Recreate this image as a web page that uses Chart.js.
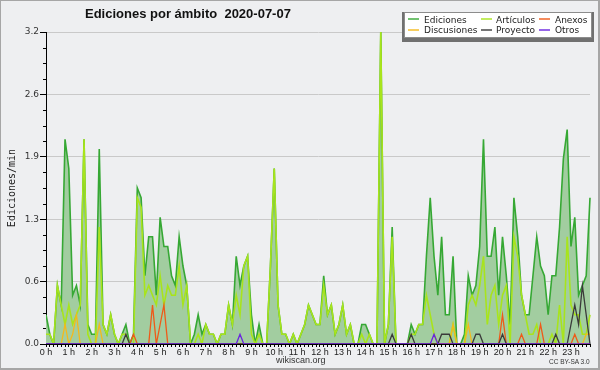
<!DOCTYPE html>
<html><head><meta charset="utf-8">
<script src="https://cdn.jsdelivr.net/npm/chart.js@4.4.0/dist/chart.umd.min.js"></script>
<style>
html,body{margin:0;padding:0;background:#eeeff1;}
#wrap{position:relative;width:600px;height:370px;overflow:hidden;background:#eeeff1;}
#c{position:absolute;left:0;top:0;}
.txt{position:absolute;white-space:pre;line-height:1;margin:0;}
#title{left:85px;top:7px;font:bold 13px "Liberation Sans",Arial,sans-serif;line-height:13px;color:#111;}
#site{left:276px;top:356px;font:9px "Liberation Sans",Arial,sans-serif;line-height:9px;color:#333;}
#lic{left:549px;top:359px;font:6.5px "Liberation Sans",Arial,sans-serif;line-height:6.5px;color:#333;}
#legbox{position:absolute;left:404px;top:12px;width:188px;height:26px;box-sizing:border-box;background:#fff;border:1px solid #8c8c8c;box-shadow:0 2px 0 2px #707070;}
.lg-line{position:absolute;height:2px;width:11px;opacity:0.7;}
.lg-txt{position:absolute;white-space:pre;font:9px "DejaVu Sans",sans-serif;line-height:10px;color:#222;}
#frame{position:absolute;left:0;top:0;width:600px;height:370px;box-sizing:border-box;border-style:solid;border-color:#a6a6a6;border-width:1px 2px 2px 1px;pointer-events:none;}
</style></head><body>
<div id="wrap">
<canvas id="c" width="600" height="370"></canvas>
<div id="title" class="txt">Ediciones por ámbito  2020-07-07</div>
<div id="legbox"></div>
<div id="legend"></div>
<div id="site" class="txt">wikiscan.org</div>
<div id="lic" class="txt">CC BY-SA 3.0</div>
<div id="frame"></div>
</div>
<script>
// ---- data (10-minute slots, edits per minute) ----
const hourLabels = ["0 h","1 h","2 h","3 h","4 h","5 h","6 h","7 h","8 h","9 h","10 h","11 h","12 h","13 h","14 h","15 h","16 h","17 h","18 h","19 h","20 h","21 h","22 h","23 h"];
const minuteLabels = ["00","10","20","30","40","50"];
const yMajorValues = [0, 0.64, 1.28, 1.92, 2.56, 3.2];
const yMajorLabels = ["0.0","0.6","1.3","1.9","2.6","3.2"];

const seriesNames = ["Ediciones","Artículos","Anexos","Discusiones","Proyecto","Otros"];
const seriesColors = ["#36a834","#a8e41c","#ef5a18","#f4b91c","#3a3a3a","#6a24e0"];

const ediciones = [
0.3,0.1,0.0,0.6,0.4,2.1, 1.8,0.5,0.6,0.4,2.1,0.2,
0.1,0.1,2.0,0.2,0.1,0.3, 0.1,0.0,0.1,0.2,0.0,0.1,
1.6,1.5,0.7,1.1,1.1,0.5, 1.3,1.0,1.0,0.7,0.6,1.1,
0.8,0.6,0.0,0.1,0.3,0.1, 0.2,0.1,0.1,0.0,0.1,0.1,
0.4,0.2,0.9,0.6,0.8,0.9, 0.3,0.0,0.2,0.0,0.0,0.8,
1.8,0.4,0.1,0.1,0.0,0.1, 0.0,0.1,0.2,0.4,0.3,0.2,
0.2,0.7,0.3,0.4,0.1,0.2, 0.4,0.1,0.2,0.0,0.0,0.2,
0.2,0.1,0.0,0.0,3.2,0.0, 0.2,1.2,0.0,0.0,0.0,0.0,
0.2,0.1,0.2,0.2,0.9,1.5, 0.9,0.5,1.1,0.3,0.3,0.9,
0.0,0.0,0.1,0.7,0.5,0.6, 1.0,2.1,0.9,0.9,1.2,0.5,
1.1,0.7,0.2,1.5,1.1,0.5, 0.3,0.3,0.7,1.1,0.8,0.7,
0.3,0.7,0.7,1.2,1.9,2.2, 1.0,1.3,0.5,0.6,0.7,1.5
];
const articulos = [
0.1,0.1,0.0,0.6,0.4,0.2, 0.4,0.2,0.3,0.4,2.1,0.1,
0.0,0.0,1.2,0.2,0.1,0.3, 0.1,0.0,0.1,0.1,0.0,0.0,
1.5,1.4,0.5,0.6,0.5,0.4, 0.7,0.4,0.6,0.5,0.5,0.8,
0.4,0.6,0.0,0.0,0.1,0.0, 0.2,0.1,0.1,0.0,0.1,0.1,
0.4,0.2,0.5,0.3,0.8,0.9, 0.1,0.0,0.1,0.0,0.0,0.8,
1.8,0.4,0.1,0.1,0.0,0.1, 0.0,0.1,0.2,0.4,0.3,0.2,
0.2,0.6,0.3,0.4,0.1,0.2, 0.4,0.1,0.2,0.0,0.0,0.1,
0.0,0.1,0.0,0.0,3.2,0.0, 0.2,1.1,0.0,0.0,0.0,0.0,
0.1,0.1,0.2,0.2,0.5,0.3, 0.1,0.0,0.0,0.0,0.0,0.2,
0.0,0.0,0.0,0.4,0.5,0.4, 0.6,0.9,0.2,0.5,0.6,0.2,
0.5,0.6,0.0,1.1,0.9,0.5, 0.3,0.1,0.1,0.2,0.0,0.0,
0.0,0.1,0.0,0.4,0.0,1.1, 0.4,0.3,0.3,0.1,0.1,0.3
];
const anexos = [
0,0,0,0,0,0, 0,0,0,0,0,0,
0,0,0,0,0,0, 0,0,0,0,0,0.1,
0,0,0,0,0.4,0, 0.2,0.4,0,0,0,0,
0,0,0,0,0,0, 0,0,0,0,0,0,
0,0,0,0,0,0, 0,0,0,0,0,0,
0,0,0,0,0,0, 0,0,0,0,0,0,
0,0,0,0,0,0, 0,0,0,0,0,0,
0,0,0,0,0,0, 0,0,0,0,0,0,
0,0,0,0,0,0, 0,0,0,0,0,0,
0,0,0,0,0,0, 0,0,0,0,0,0,
0.3,0,0,0,0,0.1, 0,0,0,0,0.2,0,
0,0,0,0,0,0, 0,0.1,0,0,0,0
];
const discusiones = [
0,0,0,0,0,0.2, 0,0.1,0.3,0,0,0,
0,0,0.2,0,0,0, 0,0,0,0,0,0,
0,0,0,0,0,0, 0,0,0,0,0,0,
0,0,0,0,0,0, 0,0,0,0,0,0,
0,0,0,0,0,0, 0,0,0,0,0,0,
0,0,0,0,0,0, 0,0,0,0,0,0,
0,0,0,0,0,0, 0,0,0,0,0,0,
0,0,0,0,0,0, 0,0,0,0,0,0,
0,0,0,0,0,0, 0,0,0,0,0,0.2,
0,0,0,0.2,0,0, 0,0,0,0,0,0,
0,0,0,0,0,0, 0,0,0,0,0,0,
0,0,0,0,0,0, 0,0,0,0,0.1,0.1
];
const proyecto = [
0,0,0,0,0,0, 0,0,0,0,0,0,
0,0,0,0,0,0, 0,0,0,0.1,0,0,
0,0,0,0,0,0, 0,0,0,0,0,0,
0,0,0,0,0,0, 0,0,0,0,0,0,
0,0,0,0,0,0, 0,0,0,0,0,0,
0,0,0,0,0,0, 0,0,0,0,0,0,
0,0,0,0,0,0, 0,0,0,0,0,0,
0,0,0,0,0,0, 0,0.1,0,0,0,0,
0.1,0,0,0,0,0, 0,0,0.1,0.1,0.1,0,
0,0,0,0,0,0.1, 0.1,0,0,0,0,0,
0.1,0,0,0,0,0, 0,0,0,0,0,0,
0,0,0.1,0,0,0, 0.2,0.4,0.2,0.6,0.3,0
];
const otros = [
0,0,0,0,0,0, 0,0,0,0,0,0,
0,0,0,0,0,0, 0,0,0,0,0,0,
0,0,0,0,0,0, 0,0,0,0,0,0,
0,0,0,0,0,0, 0,0,0,0,0,0,
0,0,0,0.1,0,0, 0,0,0,0,0,0,
0,0,0,0,0,0, 0,0,0,0,0,0,
0,0,0,0,0,0, 0,0,0,0,0,0,
0,0,0,0,0,0, 0,0,0,0,0,0,
0,0,0,0,0,0, 0.1,0,0,0,0,0,
0,0,0,0,0,0, 0,0,0,0,0,0,
0,0,0,0,0,0, 0,0,0,0,0,0,
0,0,0,0,0,0, 0,0,0,0,0,0
];

// category labels: one per 10-minute slot
const timeSlots = [];
hourLabels.forEach((h, hi) => minuteLabels.forEach(m => timeSlots.push(hi + ":" + m)));

// ---- legend (HTML) ----
const legendPos = [
  {lx:408, tx:424, ly:18, ty:14.5},
  {lx:481, tx:496, ly:18, ty:14.5},
  {lx:539, tx:555, ly:18, ty:14.5},
  {lx:408, tx:424, ly:29, ty:24.5},
  {lx:481, tx:496, ly:29, ty:24.5},
  {lx:539, tx:555, ly:29, ty:24.5}
];
const legendOrder = [0,1,2,3,4,5];
const legEl = document.getElementById('legend');
legendOrder.forEach((si, k) => {
  const p = legendPos[k];
  const ln = document.createElement('div');
  ln.className = 'lg-line';
  ln.style.left = p.lx + 'px'; ln.style.top = p.ly + 'px';
  ln.style.background = seriesColors[si];
  legEl.appendChild(ln);
  const t = document.createElement('div');
  t.className = 'lg-txt';
  t.style.left = p.tx + 'px'; t.style.top = p.ty + 'px';
  t.textContent = seriesNames[si];
  legEl.appendChild(t);
});

// ---- minor y ticks plugin ----
const minorTicks = {
  id: 'minorTicks',
  afterDraw(chart) {
    const y = chart.scales.y; const ctx = chart.ctx;
    ctx.save(); ctx.strokeStyle = '#000'; ctx.lineWidth = 1;
    for (let k = 0; k < yMajorValues.length - 1; k++) {
      const a = yMajorValues[k], b = yMajorValues[k + 1];
      for (let j = 1; j < 4; j++) {
        const py = Math.round(y.getPixelForValue(a + (b - a) * j / 4)) + 0.5;
        ctx.beginPath(); ctx.moveTo(y.right - 3, py); ctx.lineTo(y.right, py); ctx.stroke();
      }
    }
    ctx.restore();
  }
};

const seriesData = [ediciones, articulos, anexos, discusiones, proyecto, otros];
const drawOrder = [6, 5, 3, 4, 2, 1];
const widths = [1.6, 1.6, 1.3, 1.3, 1.3, 1.3];
const datasets = seriesData.map((d, i) => ({
  label: seriesNames[i],
  data: d,
  borderColor: seriesColors[i],
  backgroundColor: i === 0 ? '#a2cda0' : seriesColors[i],
  fill: i === 0 ? 'origin' : false,
  borderWidth: widths[i],
  pointRadius: 0,
  tension: 0,
  order: drawOrder[i],
  clip: {left: 0, top: 3, right: 2, bottom: 0}
}));

new Chart(document.getElementById('c'), {
  type: 'line',
  data: { labels: timeSlots, datasets },
  options: {
    responsive: false,
    devicePixelRatio: 1,
    animation: false,
    layout: { padding: { top: 32, right: 10, left: 0, bottom: 0 } },
    plugins: { legend: { display: false }, tooltip: { enabled: false }, title: { display: false } },
    scales: {
      x: {
        type: 'category',
        offset: false,
        z: 1,
        afterFit: s => { s.height = 26; },
        ticks: {
          autoSkip: false, maxRotation: 0, minRotation: 0, padding: 0,
          callback: (v, i) => (i % 6 === 0 ? hourLabels[i / 6] : ''),
          font: { family: 'Liberation Sans', size: 9 }, color: '#222'
        },
        grid: { display: true, drawOnChartArea: false, drawTicks: true, tickLength: 3, tickColor: '#000', tickWidth: 1 },
        border: { display: true, color: '#000', width: 1 }
      },
      y: {
        min: 0, max: 3.2,
        afterFit: s => { s.width = 46; },
        afterBuildTicks: s => { s.ticks = yMajorValues.map(v => ({ value: v })); },
        ticks: {
          callback: (v, i) => yMajorLabels[i],
          font: { family: 'DejaVu Sans', size: 9 }, color: '#333', padding: 1
        },
        grid: {
          color: ctx => (ctx.tick && ctx.tick.value > 0 ? '#c9c9c9' : 'rgba(0,0,0,0)'),
          tickColor: '#000', tickLength: 6, lineWidth: 1
        },
        border: { display: true, color: '#000', width: 1 },
        title: {
          display: true, text: 'Ediciones/min',
          font: { family: 'DejaVu Sans Mono', size: 10 }, color: '#222',
          padding: { top: 6, bottom: 0 }
        }
      }
    }
  },
  plugins: [minorTicks]
});
</script>
</body></html>
